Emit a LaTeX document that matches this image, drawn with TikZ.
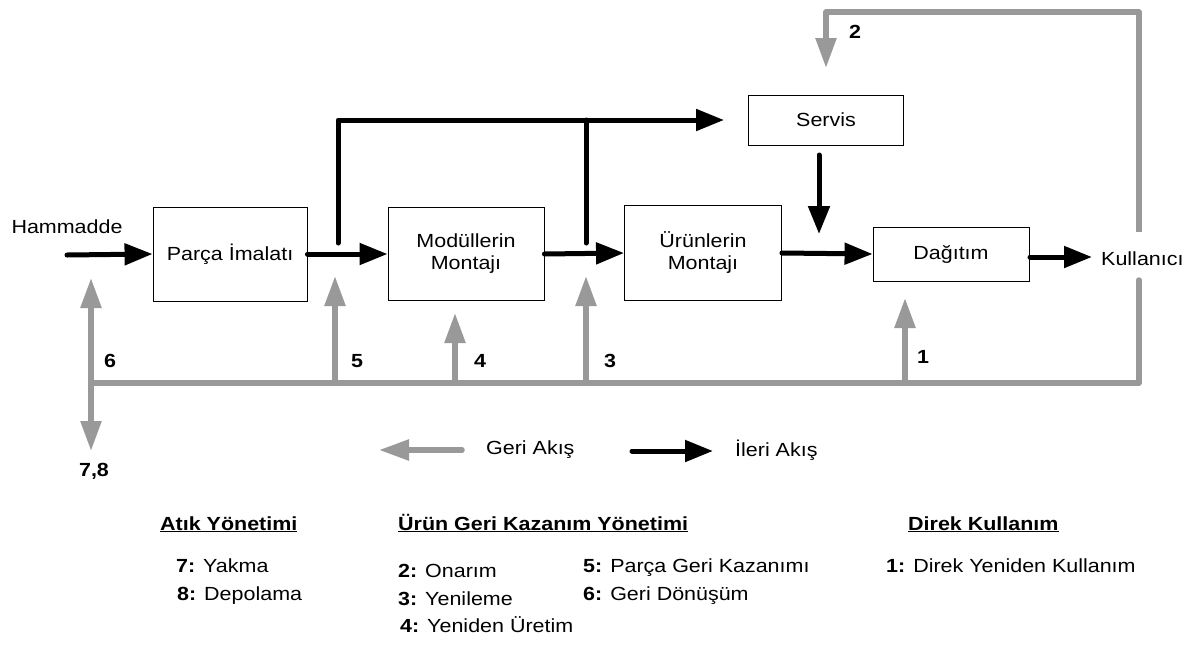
\documentclass[tikz,border=0pt]{standalone}
\usepackage{fontspec}
\setmainfont{Liberation Sans}[FakeStretch=1.13]
\usetikzlibrary{arrows.meta}
\definecolor{backflow}{RGB}{153,153,153}
\begin{document}
\begin{tikzpicture}[x=1pt,y=-1pt,
  font=\fontsize{19}{22}\selectfont,
  box/.style={draw=black, line width=0.9pt, inner sep=0pt, align=center},
  fwd/.style={line width=5pt, line cap=round, line join=round, -{Triangle[length=28pt,width=21pt]}},
  fwdline/.style={line width=5pt, line cap=round, line join=round},
  bwd/.style={draw=backflow, line width=5.5pt, line join=round, -{Triangle[length=30pt,width=20pt]}},
  bwdline/.style={draw=backflow, line width=5.5pt, line cap=round, line join=round},
  num/.style={font=\fontsize{19}{22}\selectfont\bfseries, inner sep=0pt},
  plain/.style={inner sep=0pt},
  legitem/.style={anchor=base west, inner sep=0pt}]
\useasboundingbox (0,0) rectangle (1194,657);

% process blocks
\node[box, minimum width=154pt, minimum height=94pt] (parca) at (230,254) {Parça İmalatı};
\node[box, minimum width=156pt, minimum height=93pt] (modul) at (466,254) {Modüllerin\\Montajı};
\node[box, minimum width=157pt, minimum height=95pt] (urun) at (703,253) {Ürünlerin\\Montajı};
\node[box, minimum width=155pt, minimum height=50pt] (servis) at (826,120) {Servis};
\node[box, minimum width=156pt, minimum height=54pt] (dag) at (951,254) {Dağıtım};

\node[plain] (ham) at (67,227) {Hammadde};
\node[plain, anchor=west] (kul) at (1101,259) {Kullanıcı};

% forward flow
\coordinate (h0) at (67,255);
\coordinate (b1) at (338,243);
\coordinate (b2) at (586,243);
\coordinate (s1) at (819,155);
\coordinate (s2) at (819,234);
\coordinate (d0) at (1030,257);
\coordinate (d1) at (1092,257);

\draw[fwd] (h0) -- (parca.west);
\draw[fwd] (parca.east) -- (modul.west);
\draw[fwd] (modul.east) -- (urun.west);
\draw[fwd] (urun.east) -- (dag.west);
\draw[fwd] (d0) -- (d1);
\draw[fwd, shorten >=24pt] (b1) |- (servis.west);
\draw[fwdline] (b2) -- (b2 |- servis.west);
\draw[fwd] (s1) -- (s2);

% backward flow
\coordinate (g0) at (91,383);
\coordinate (gR) at (1139,383);
\coordinate (kb) at (1139,280);
\coordinate (kt) at (1139,232);
\coordinate (top) at (1139,12);
\coordinate (t2) at (826,68);
\coordinate (t6) at (91,278);
\coordinate (t78) at (91,451);
\coordinate (f5) at (335,383);
\coordinate (t5) at (335,276);
\coordinate (f4) at (455,383);
\coordinate (t4) at (455,313);
\coordinate (f3) at (586,383);
\coordinate (t3) at (586,276);
\coordinate (f1) at (905,383);
\coordinate (t1) at (905,298);

\draw[bwdline] (g0) -- (gR) -- (kb);
\draw[bwd] (kt) -- (top) -| (t2);
\draw[bwd] (g0) -- (t6);
\draw[bwd] (g0) -- (t78);
\draw[bwd] (f5) -- (t5);
\draw[bwd] (f4) -- (t4);
\draw[bwd] (f3) -- (t3);
\draw[bwd] (f1) -- (t1);

% flow numbers
\node[num] (n2) at (855,32) {2};
\node[num] (n6) at (110,361) {6};
\node[num] (n5) at (357,361) {5};
\node[num] (n4) at (480,361) {4};
\node[num] (n3) at (610,361) {3};
\node[num] (n1) at (923,357) {1};
\node[num] (n78) at (94,471) {7,8};

% key
\coordinate (lg0) at (462,450);
\coordinate (lg1) at (379,450);
\coordinate (lf0) at (632,451);
\coordinate (lf1) at (713,451);
\draw[bwd, line cap=round] (lg0) -- (lg1);
\draw[fwd] (lf0) -- (lf1);
\node[plain, anchor=west] (geri) at (486,450) {Geri Akış};
\node[plain, anchor=west] (ileri) at (735,450) {İleri Akış};

% categories
\node[legitem] (hA) at (160,530) {\underline{\textbf{Atık Yönetimi}}};
\node[legitem] (hU) at (398,530) {\underline{\textbf{Ürün Geri Kazanım Yönetimi}}};
\node[legitem] (hD) at (908,530) {\underline{\textbf{Direk Kullanım}}};

\node[legitem] (l7) at (176,572) {\textbf{7:} Yakma};
\node[legitem] (l8) at (177,600) {\textbf{8:} Depolama};
\node[legitem] (l2) at (398,577) {\textbf{2:} Onarım};
\node[legitem] (l3) at (398,605) {\textbf{3:} Yenileme};
\node[legitem] (l4) at (400,632) {\textbf{4:} Yeniden Üretim};
\node[legitem] (l5) at (583,572) {\textbf{5:} Parça Geri Kazanımı};
\node[legitem] (l6) at (583,600) {\textbf{6:} Geri Dönüşüm};
\node[legitem] (l1) at (886,572) {\textbf{1:} Direk Yeniden Kullanım};
\end{tikzpicture}
\end{document}
